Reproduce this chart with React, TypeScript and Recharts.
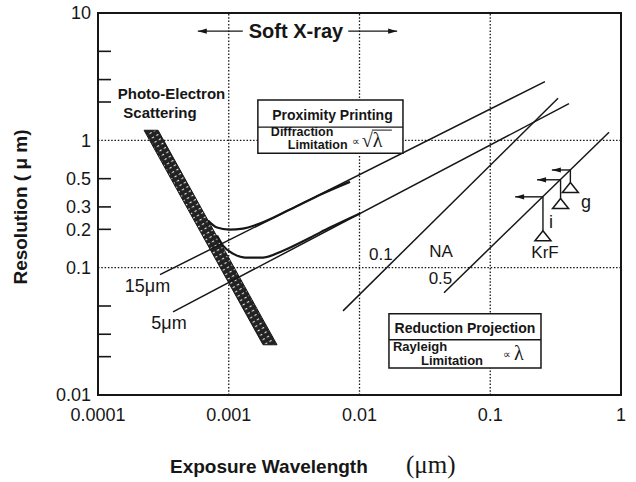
import React from "react";
import {
  ComposedChart,
  Line,
  Area,
  Scatter,
  XAxis,
  YAxis,
  ReferenceLine,
  ReferenceArea,
  ReferenceDot,
} from "recharts";

const SANS = "'Liberation Sans', Arial, Helvetica, sans-serif";
const SERIF = "'Liberation Serif', 'DejaVu Serif', 'Times New Roman', serif";
const INK = "#161616";

// axes (log-log)
const xTicks = [0.0001, 0.001, 0.01, 0.1, 1];
const yTicks = [0.01, 0.02, 0.03, 0.05, 0.1, 0.2, 0.3, 0.5, 1, 2, 3, 5, 10];
const yTickLabels = [0.01, 0.1, 0.2, 0.3, 0.5, 1, 10];
const xGrid = [0.001, 0.01, 0.1];
const yGrid = [0.1, 1];

// photo-electron scattering band, r = [low, high] resolution
const peBand = [
  { x: 0.000225, r: [1.2, 1.2] },
  { x: 0.000288, r: [0.76, 1.2] },
  { x: 0.00183, r: [0.0248, 0.039] },
  { x: 0.00234, r: [0.0248, 0.0248] },
];

// proximity printing, diffraction limit only (gap 15um / 5um)
const prox15 = [
  { x: 0.000298, y: 0.0881 },
  { x: 0.262, y: 2.89 },
];
const prox5 = [
  { x: 0.000375, y: 0.045 },
  { x: 0.4, y: 1.94 },
];

// proximity printing incl. photo-electron blur
const prox15Total = [
  { x: 0.000694, y: 0.234 },
  { x: 0.000813, y: 0.2065 },
  { x: 0.001004, y: 0.199 },
  { x: 0.001285, y: 0.2028 },
  { x: 0.001644, y: 0.218 },
  { x: 0.00294, y: 0.286 },
  { x: 0.00526, y: 0.383 },
  { x: 0.00845, y: 0.472 },
];
const prox5Total = [
  { x: 0.000813, y: 0.1786 },
  { x: 0.000904, y: 0.149 },
  { x: 0.001078, y: 0.1289 },
  { x: 0.001331, y: 0.12 },
  { x: 0.001828, y: 0.12 },
  { x: 0.0026, y: 0.136 },
  { x: 0.00418, y: 0.172 },
  { x: 0.00594, y: 0.2065 },
  { x: 0.0101, y: 0.267 },
];

// reduction projection, Rayleigh limit (NA 0.1 / 0.5)
const projNA01 = [
  { x: 0.00748, y: 0.0458 },
  { x: 0.33, y: 2.14 },
];
const projNA05 = [
  { x: 0.0443, y: 0.0636 },
  { x: 0.81, y: 1.156 },
];

// exposure sources sitting on the NA 0.5 line
const sourceNames = ["g", "i", "KrF"];
const sourceWl = [0.41, 0.345, 0.253];
const sourceRes = [0.585, 0.49, 0.36];
const sourceTip = [0.467, 0.349, 0.195];
const sourceArrowTo = [0.296, 0.228, 0.155];

// soft x-ray range
const softXLeft = [
  { x: 0.00128, y: 7.2 },
  { x: 0.00058, y: 7.2 },
];
const softXRight = [
  { x: 0.0082, y: 7.2 },
  { x: 0.0194, y: 7.2 },
];

const sourceTips = sourceWl.map((x, i) => ({ x, y: sourceTip[i] }));

const isDecade = (v: number) => Math.abs(Math.log10(v) - Math.round(Math.log10(v))) < 1e-6;

const YTick = (props: any) => {
  const { x, y, payload } = props;
  const v = payload.value;
  const ax = x + 7;
  return (
    <g>
      {!isDecade(v) && <line x1={ax} x2={ax + 13} y1={y} y2={y} stroke={INK} strokeWidth={1.6} />}
      {yTickLabels.includes(v) && (
        <text x={x} y={y} dy="0.35em" textAnchor="end" fontSize={18} fontFamily={SANS} fill={INK}>
          {String(v)}
        </text>
      )}
    </g>
  );
};

const Arrow = (props: any) => {
  const { x1, y1, x2, y2 } = props;
  const a = Math.atan2(y2 - y1, x2 - x1);
  const L = 9;
  const W = 2.6;
  const bx = x2 - L * Math.cos(a);
  const by = y2 - L * Math.sin(a);
  const px = -Math.sin(a) * W;
  const py = Math.cos(a) * W;
  return (
    <g>
      <line x1={x1} y1={y1} x2={x2} y2={y2} stroke={INK} strokeWidth={1.4} />
      <polygon points={`${x2},${y2} ${bx + px},${by + py} ${bx - px},${by - py}`} fill={INK} />
    </g>
  );
};

const Tri = (props: any) => {
  const { cx, cy } = props;
  return (
    <polygon
      points={`${cx},${cy} ${cx - 8},${cy + 10} ${cx + 8},${cy + 10}`}
      fill="#fff"
      stroke={INK}
      strokeWidth={1.5}
    />
  );
};

const note =
  (text: string, size: number, bold = false, family = SANS) =>
  ({ viewBox }: any) =>
    (
      <text
        x={viewBox.x + viewBox.width / 2}
        y={viewBox.y + viewBox.height / 2}
        dy="0.35em"
        textAnchor="middle"
        fontSize={size}
        fontWeight={bold ? "bold" : "normal"}
        fontFamily={family}
        fill={INK}
      >
        {text}
      </text>
    );

const ProximityBox = ({ viewBox }: any) => {
  const { x, y, width } = viewBox;
  return (
    <g fill={INK} fontFamily={SANS} fontWeight="bold">
      <line x1={x} x2={x + width} y1={y + 27} y2={y + 27} stroke={INK} strokeWidth={1.4} />
      <text x={x + width / 2 + 2} y={y + 20} textAnchor="middle" fontSize={14}>
        Proximity Printing
      </text>
      <text x={x + 13} y={y + 36} fontSize={12.5}>
        Diffraction
      </text>
      <text x={x + 30} y={y + 49} fontSize={12.5}>
        Limitation
      </text>
      <text x={x + 94} y={y + 45} fontSize={11} fontWeight="normal">
        ∝
      </text>
      <text x={x + 104} y={y + 47} fontSize={20} fontWeight="normal" fontFamily={SERIF}>
        √λ
      </text>
      <line x1={x + 114} x2={x + 134} y1={y + 30} y2={y + 30} stroke={INK} strokeWidth={1} />
    </g>
  );
};

const ReductionBox = ({ viewBox }: any) => {
  const { x, y, width } = viewBox;
  return (
    <g fill={INK} fontFamily={SANS} fontWeight="bold">
      <line x1={x} x2={x + width} y1={y + 26} y2={y + 26} stroke={INK} strokeWidth={1.4} />
      <text x={x + width / 2} y={y + 19} textAnchor="middle" fontSize={14}>
        Reduction Projection
      </text>
      <text x={x + 4} y={y + 37} fontSize={13}>
        Rayleigh
      </text>
      <text x={x + 32} y={y + 51} fontSize={13}>
        Limitation
      </text>
      <text x={x + 114} y={y + 44} fontSize={11} fontWeight="normal">
        ∝
      </text>
      <text x={x + 125} y={y + 46} fontSize={20} fontWeight="normal" fontFamily={SERIF}>
        λ
      </text>
    </g>
  );
};

const XTitle = ({ viewBox }: any) => {
  const { x, y } = viewBox;
  return (
    <g fill={INK}>
      <text x={x + 72} y={y + 78} fontSize={19} fontWeight="bold" fontFamily={SANS}>
        Exposure Wavelength
      </text>
      <text x={x + 308} y={y + 78} fontSize={25} fontFamily={SERIF}>
        (μm)
      </text>
    </g>
  );
};

const YTitle = ({ viewBox }: any) => {
  const { x, y } = viewBox;
  return (
    <text
      transform={`translate(${x + 12},${y + 194}) rotate(-90)`}
      dy="0.35em"
      textAnchor="middle"
      fontSize={19}
      fontWeight="bold"
      fontFamily={SANS}
      fill={INK}
    >
      Resolution ( μ m)
    </text>
  );
};

const App = () => {
  return (
    <div style={{ position: "absolute", left: 0, top: 0, background: "#fff" }}>
      <ComposedChart width={636} height={482} margin={{ top: 13, right: 15, bottom: 57, left: 8 }}>
        <defs>
          <pattern id="peHatch" width="5" height="5" patternUnits="userSpaceOnUse" patternTransform="rotate(60)">
            <rect width="5" height="5" fill="#222" />
            <rect x="0" y="0" width="1.1" height="2.4" fill="#e8e8e8" />
          </pattern>
        </defs>
        <XAxis
          dataKey="x"
          type="number"
          scale="log"
          domain={[0.0001, 1]}
          allowDataOverflow
          ticks={xTicks}
          interval={0}
          tickFormatter={(v: number) => String(v)}
          tickLine={false}
          axisLine={false}
          tickSize={0}
          tickMargin={13}
          tick={{ fontSize: 18, fill: INK, fontFamily: SANS }}
          height={30}
          label={XTitle}
        />
        <YAxis
          type="number"
          scale="log"
          domain={[0.01, 10]}
          allowDataOverflow
          ticks={yTicks}
          interval={0}
          tickLine={false}
          axisLine={false}
          tickSize={0}
          tickMargin={7}
          tick={YTick}
          width={90}
          label={YTitle}
        />

        {xGrid.map((v) => (
          <ReferenceLine key={`gx${v}`} x={v} stroke={INK} strokeWidth={1.3} strokeDasharray="1.5 1.8" zIndex={-50} />
        ))}
        {yGrid.map((v) => (
          <ReferenceLine key={`gy${v}`} y={v} stroke={INK} strokeWidth={1.3} strokeDasharray="1.5 1.8" zIndex={-50} />
        ))}

        <Area
          data={peBand}
          dataKey="r"
          type="linear"
          fill="url(#peHatch)"
          fillOpacity={1}
          stroke={INK}
          strokeWidth={1}
          dot={false}
          activeDot={false}
          isAnimationActive={false}
        />

        <Line data={prox15} dataKey="y" type="linear" stroke={INK} strokeWidth={1.5} dot={false} activeDot={false} isAnimationActive={false} />
        <Line data={prox5} dataKey="y" type="linear" stroke={INK} strokeWidth={1.5} dot={false} activeDot={false} isAnimationActive={false} />
        <Line data={prox15Total} dataKey="y" type="monotone" stroke={INK} strokeWidth={2.2} dot={false} activeDot={false} isAnimationActive={false} />
        <Line data={prox5Total} dataKey="y" type="monotone" stroke={INK} strokeWidth={2.2} dot={false} activeDot={false} isAnimationActive={false} />
        <Line data={projNA01} dataKey="y" type="linear" stroke={INK} strokeWidth={1.5} dot={false} activeDot={false} isAnimationActive={false} />
        <Line data={projNA05} dataKey="y" type="linear" stroke={INK} strokeWidth={1.5} dot={false} activeDot={false} isAnimationActive={false} />

        {sourceWl.map((wl, i) => (
          <ReferenceLine
            key={`sv${i}`}
            segment={[
              { x: wl, y: sourceRes[i] },
              { x: wl, y: sourceTip[i] },
            ]}
            stroke={INK}
            strokeWidth={1.4}
          />
        ))}
        {sourceWl.map((wl, i) => (
          <ReferenceLine
            key={`sa${i}`}
            segment={[
              { x: wl, y: sourceRes[i] },
              { x: sourceArrowTo[i], y: sourceRes[i] },
            ]}
            shape={Arrow}
          />
        ))}
        <Scatter data={sourceTips} dataKey="y" shape={Tri} isAnimationActive={false} />

        <ReferenceLine segment={softXLeft} shape={Arrow} />
        <ReferenceLine segment={softXRight} shape={Arrow} />

        <ReferenceArea
          x1={0.00167}
          x2={0.0215}
          y1={0.79}
          y2={2.07}
          fill="#fff"
          fillOpacity={1}
          stroke={INK}
          strokeWidth={1.5}
          ifOverflow="visible"
          zIndex={900}
          label={ProximityBox}
        />
        <ReferenceArea
          x1={0.0168}
          x2={0.2444}
          y1={0.0163}
          y2={0.0435}
          fill="#fff"
          fillOpacity={1}
          stroke={INK}
          strokeWidth={1.5}
          ifOverflow="visible"
          zIndex={900}
          label={ReductionBox}
        />

        <ReferenceDot x={0.00327} y={7.2} r={0} fill="none" stroke="none" label={note("Soft X-ray", 20, true)} />
        <ReferenceDot x={0.000365} y={2.34} r={0} fill="none" stroke="none" label={note("Photo-Electron", 15, true)} />
        <ReferenceDot x={0.000298} y={1.647} r={0} fill="none" stroke="none" label={note("Scattering", 15, true)} />
        <ReferenceDot x={0.000239} y={0.0721} r={0} fill="none" stroke="none" label={note("15μm", 18)} />
        <ReferenceDot x={0.000349} y={0.0369} r={0} fill="none" stroke="none" label={note("5μm", 18)} />
        <ReferenceDot x={0.01458} y={0.1276} r={0} fill="none" stroke="none" label={note("0.1", 17)} />
        <ReferenceDot x={0.042} y={0.136} r={0} fill="none" stroke="none" label={note("NA", 17)} />
        <ReferenceDot x={0.0416} y={0.0826} r={0} fill="none" stroke="none" label={note("0.5", 17)} />
        <ReferenceDot x={0.54} y={0.331} r={0} fill="none" stroke="none" label={note(sourceNames[0], 18)} />
        <ReferenceDot x={0.292} y={0.23} r={0} fill="none" stroke="none" label={note(sourceNames[1], 18)} />
        <ReferenceDot x={0.2625} y={0.1324} r={0} fill="none" stroke="none" label={note(sourceNames[2], 17)} />

        <ReferenceArea
          x1={0.0001}
          x2={1}
          y1={0.01}
          y2={10}
          fill="none"
          stroke={INK}
          strokeWidth={2}
          ifOverflow="visible"
          zIndex={950}
        />
      </ComposedChart>
    </div>
  );
};

export default App;
